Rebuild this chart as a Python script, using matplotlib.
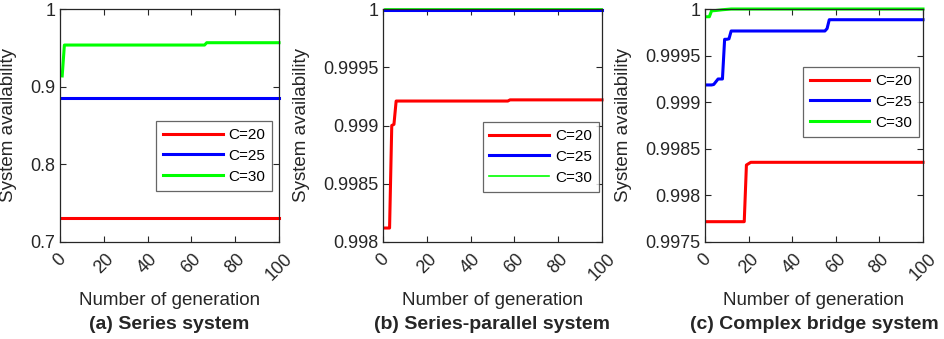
import numpy as np
import matplotlib
matplotlib.use('Agg')
import matplotlib.pyplot as plt
from matplotlib.ticker import FuncFormatter

plt.rcParams['font.family'] = ['Liberation Sans', 'DejaVu Sans']

# (a) Series system: generation / availability at change points
a_gen_20 = [1, 100]
a_val_20 = [0.7314, 0.7314]
a_gen_25 = [1, 100]
a_val_25 = [0.8850, 0.8850]
a_gen_30 = [1, 2, 66, 67, 100]
a_val_30 = [0.9138, 0.9536, 0.9536, 0.9566, 0.9566]

# (b) Series-parallel system
b_gen_20 = [1, 3, 4, 5, 6, 57, 58, 100]
b_val_20 = [0.99812, 0.99812, 0.99900, 0.99901, 0.99921, 0.99921, 0.99922, 0.99922]
b_gen_25 = [1, 100]
b_val_25 = [0.999988, 0.999988]
b_gen_30 = [1, 100]
b_val_30 = [1.0, 1.0]

# (c) Complex bridge system
c_gen_20 = [1, 18, 19, 21, 100]
c_val_20 = [0.997718, 0.997718, 0.998326, 0.998355, 0.998355]
c_gen_25 = [1, 3, 4, 6, 8, 9, 10, 11, 12, 55, 56, 57, 100]
c_val_25 = [0.999185, 0.999185, 0.999190, 0.999249, 0.999249, 0.999675, 0.999675,
            0.999680, 0.999764, 0.999764, 0.999790, 0.999885, 0.999885]
c_gen_30 = [1, 2, 3, 5, 8, 12, 100]
c_val_30 = [0.999917, 0.999917, 0.999980, 0.999984, 0.999992, 1.0, 1.0]

labels = ['C=20', 'C=25', 'C=30']
colors = ['#ff0000', '#0000ff', '#00ff00']

panels = [
    dict(gens=[a_gen_20, a_gen_25, a_gen_30], vals=[a_val_20, a_val_25, a_val_30],
         ylim=(0.7, 1.0), yticks=[0.7, 0.8, 0.9, 1.0], lws=[2.2, 2.2, 2.2],
         pos=[60, 279, -0.196], leg=(0.970, 0.519), title='(a) Series system'),
    dict(gens=[b_gen_20, b_gen_25, b_gen_30], vals=[b_val_20, b_val_25, b_val_30],
         ylim=(0.998, 1.0), yticks=[0.998, 0.9985, 0.999, 0.9995, 1.0], lws=[2.2, 2.2, 1.2],
         pos=[383, 602, -0.333], leg=(0.986, 0.515), title='(b) Series-parallel system'),
    dict(gens=[c_gen_20, c_gen_25, c_gen_30], vals=[c_val_20, c_val_25, c_val_30],
         ylim=(0.9975, 1.0), yticks=[0.9975, 0.998, 0.9985, 0.999, 0.9995, 1.0], lws=[2.2, 2.2, 2.2],
         pos=[705, 923, -0.335], leg=(0.982, 0.751), title='(c) Complex bridge system'),
]

W, H = 944, 339
fig = plt.figure(figsize=(W / 100, H / 100), dpi=100)

for p in panels:
    x0, x1, ylab_x = p['pos']
    ax = fig.add_axes([x0 / W, 1 - 242 / H, (x1 - x0) / W, 233 / H])
    for g, v, lab, col, lw in zip(p['gens'], p['vals'], labels, colors, p['lws']):
        ax.plot(g, v, color=col, lw=lw, label=lab, clip_on=False)
    ax.set_xlim(0, 100)
    ax.set_ylim(*p['ylim'])
    ax.set_xticks([0, 20, 40, 60, 80, 100])
    ax.set_yticks(p['yticks'])
    ax.yaxis.set_major_formatter(FuncFormatter(lambda v, pos: '%g' % round(v, 6)))
    ax.tick_params(direction='in', top=True, right=True, length=4, width=0.8,
                   labelsize=13, colors='#262626')
    ax.tick_params(axis='x', pad=6)
    for lbl in ax.get_xticklabels():
        lbl.set_rotation(45)
        lbl.set_ha('center')
        lbl.set_va('top')
    for s in ax.spines.values():
        s.set_color('#262626')
        s.set_linewidth(0.9)
    ax.set_ylabel('System availability', fontsize=13.5, color='#262626')
    ax.yaxis.set_label_coords(ylab_x, 0.5)
    ax.set_xlabel('Number of generation', fontsize=13.5, color='#262626', va='center')
    ax.xaxis.set_label_coords(0.5, -0.249)
    ax.text(0.5, -0.352, p['title'], transform=ax.transAxes, ha='center', va='center',
            fontsize=14, fontweight='bold', color='#262626')
    leg = ax.legend(loc='upper right', bbox_to_anchor=p['leg'], fontsize=11,
                    fancybox=False, handlelength=3.9, borderpad=0.45,
                    labelspacing=0.45, handletextpad=0.4, borderaxespad=0)
    leg.get_frame().set_edgecolor('#404040')
    leg.get_frame().set_linewidth(0.9)

fig.savefig('out.png', dpi=100)
